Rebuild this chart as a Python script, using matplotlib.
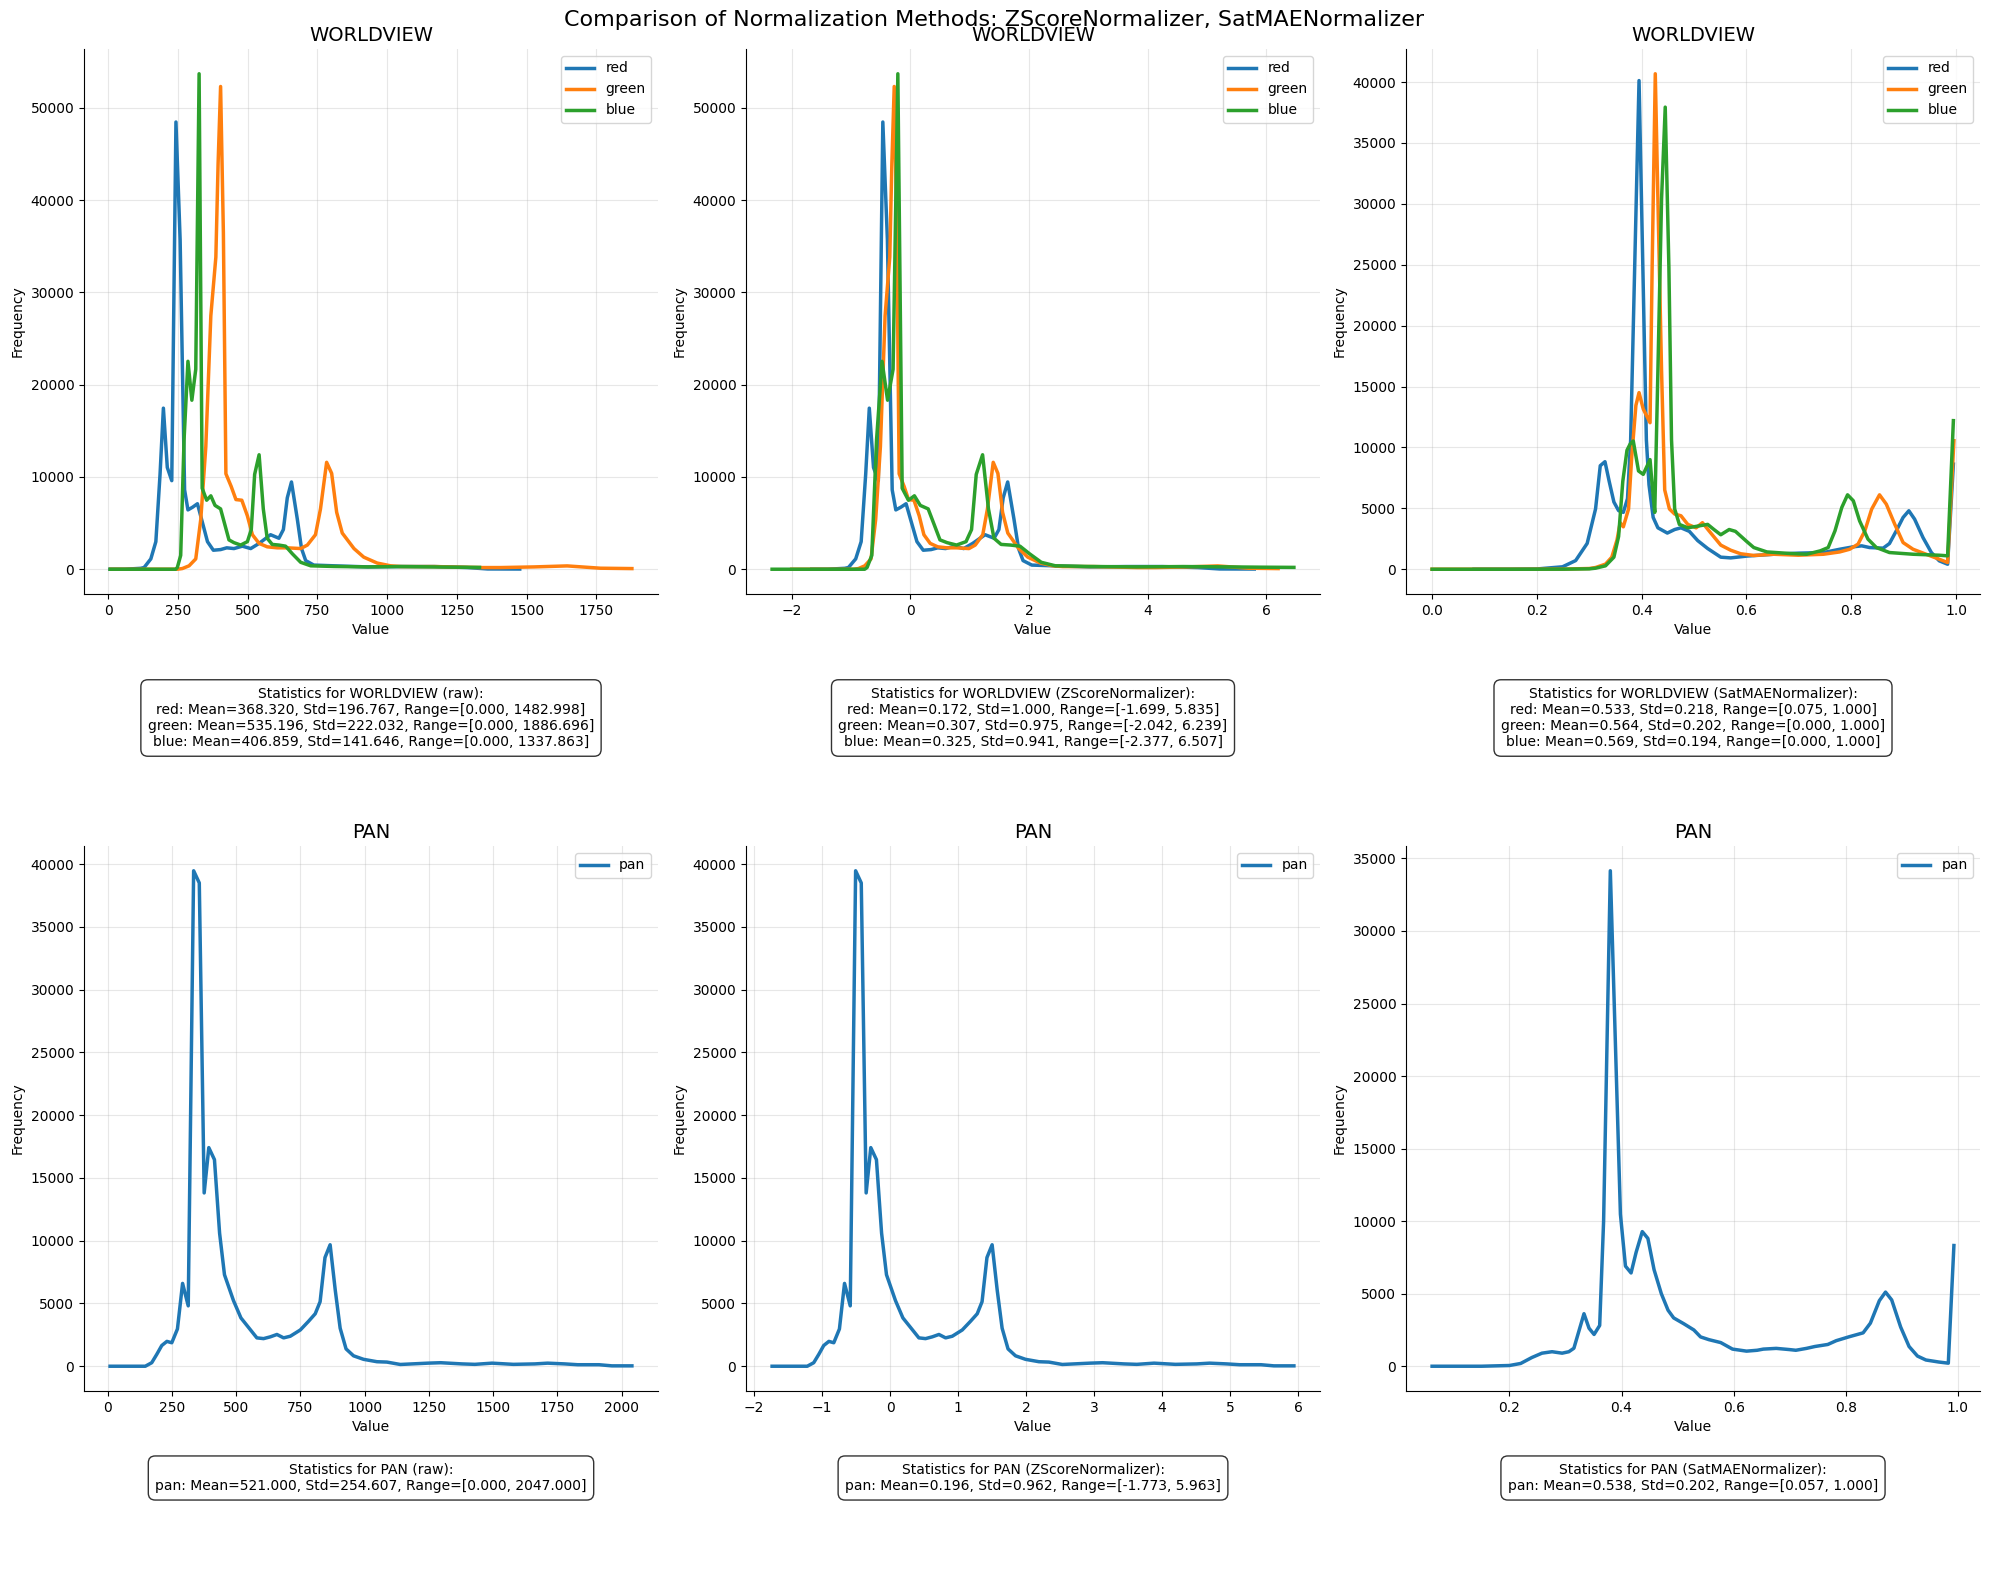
import matplotlib
matplotlib.use("Agg")
import matplotlib.pyplot as plt

# ---------------- data ----------------
channels = ["red", "green", "blue"]

# WORLDVIEW raw
wv_raw_red_x = [7, 60, 117, 129, 153, 171, 186, 198, 212, 228, 243, 258, 274, 286, 303, 320, 338, 356, 377, 403,
                425, 451, 481, 511, 541, 582, 612, 628, 642, 657, 678, 693, 708, 737, 809, 931, 1050, 1169, 1288, 1360, 1475]
wv_red_freq = [0, 0, 100, 190, 1120, 2990, 10280, 17460, 11030, 9600, 48480, 35700, 8600, 6430, 6730, 7100, 5050, 2990,
               2060, 2130, 2320, 2240, 2500, 2240, 2800, 3740, 3360, 4300, 7740, 9460, 5420, 2240, 935, 450, 370, 250,
               290, 290, 180, 30, 20]
wv_raw_green_x = [9, 150, 248, 266, 290, 314, 332, 350, 368, 386, 394, 403, 413, 422, 441, 458, 479, 499, 517, 541, 570,
                  606, 642, 690, 714, 743, 761, 783, 801, 819, 839, 881, 916, 964, 1012, 1050, 1169, 1336, 1407, 1526,
                  1645, 1764, 1877]
wv_green_freq = [0, 0, 0, 75, 370, 1120, 5420, 13270, 27470, 33830, 43920, 52330, 36450, 10350, 8970, 7550, 7480, 5790,
                 3740, 2800, 2430, 2320, 2320, 2240, 2620, 3740, 6540, 11590, 10390, 6170, 3920, 2240, 1310, 670, 370,
                 290, 290, 180, 180, 250, 360, 110, 70]
wv_raw_blue_x = [7, 150, 242, 248, 260, 272, 286, 300, 314, 326, 337, 353, 368, 383, 403, 418, 433, 451, 475, 499, 513,
                 525, 541, 556, 570, 588, 612, 636, 660, 690, 726, 809, 931, 1050, 1169, 1250, 1331]
wv_blue_freq = [0, 0, 0, 190, 1500, 14000, 22540, 18320, 21680, 53710, 8780, 7480, 7960, 6920, 6540, 4860, 3180, 2880,
                2620, 2990, 4300, 10280, 12410, 6540, 3360, 2690, 2620, 2500, 1680, 750, 370, 300, 250, 290, 250, 220, 200]

# WORLDVIEW ZScoreNormalizer (same counts, shifted/scaled values)
wv_z_red_x = [-1.663, -1.394, -1.105, -1.044, -0.922, -0.830, -0.754, -0.693, -0.622, -0.541, -0.465, -0.388, -0.307,
              -0.246, -0.160, -0.073, 0.018, 0.110, 0.216, 0.348, 0.460, 0.592, 0.745, 0.897, 1.049, 1.258, 1.410,
              1.491, 1.563, 1.639, 1.745, 1.822, 1.898, 2.045, 2.411, 3.031, 3.635, 4.240, 4.844, 5.210, 5.794]
wv_z_green_x = [-2.002, -1.384, -0.953, -0.875, -0.769, -0.664, -0.585, -0.506, -0.427, -0.348, -0.313, -0.273,
                -0.229, -0.190, -0.106, -0.032, 0.060, 0.148, 0.227, 0.333, 0.460, 0.618, 0.776, 0.987, 1.092, 1.219,
                1.298, 1.395, 1.474, 1.553, 1.641, 1.825, 1.978, 2.189, 2.400, 2.567, 3.089, 3.822, 4.134, 4.656,
                5.178, 5.700, 6.196]
wv_z_blue_x = [-2.331, -1.381, -0.770, -0.730, -0.651, -0.571, -0.478, -0.385, -0.292, -0.212, -0.139, -0.033, 0.067,
               0.166, 0.299, 0.399, 0.498, 0.618, 0.777, 0.937, 1.030, 1.109, 1.216, 1.315, 1.408, 1.528, 1.687,
               1.846, 2.006, 2.205, 2.444, 2.995, 3.805, 4.596, 5.386, 5.924, 6.462]

# WORLDVIEW SatMAENormalizer
wv_sat_red_x = [0.080, 0.150, 0.200, 0.220, 0.249, 0.274, 0.296, 0.312, 0.321, 0.330, 0.338, 0.347, 0.356, 0.365,
                0.373, 0.379, 0.395, 0.409, 0.414, 0.422, 0.431, 0.449, 0.463, 0.475, 0.491, 0.507, 0.526, 0.551,
                0.570, 0.601, 0.652, 0.699, 0.747, 0.778, 0.804, 0.820, 0.835, 0.861, 0.873, 0.886, 0.899, 0.910,
                0.921, 0.937, 0.953, 0.968, 0.984, 0.995]
wv_sat_red_y = [0, 0, 20, 95, 200, 710, 2120, 4950, 8500, 8830, 7220, 5520, 4810, 4670, 5800, 10620, 40120, 10620,
                6940, 4250, 3400, 2970, 3260, 3400, 3110, 2350, 1700, 990, 930, 1080, 1230, 1320, 1370, 1640, 1840,
                1920, 1780, 1730, 2110, 3150, 4250, 4800, 4110, 2600, 1370, 690, 410, 8630]
wv_sat_green_x = [0.0, 0.150, 0.250, 0.300, 0.312, 0.331, 0.343, 0.353, 0.359, 0.365, 0.375, 0.381, 0.389, 0.395,
                  0.403, 0.416, 0.420, 0.426, 0.431, 0.438, 0.444, 0.453, 0.463, 0.475, 0.488, 0.504, 0.516, 0.532,
                  0.551, 0.570, 0.589, 0.614, 0.652, 0.699, 0.747, 0.778, 0.797, 0.813, 0.826, 0.839, 0.854, 0.867,
                  0.883, 0.899, 0.918, 0.943, 0.968, 0.984, 0.996]
wv_sat_green_y = [0, 0, 10, 60, 140, 420, 990, 2410, 3820, 3480, 4950, 9200, 13450, 14500, 13160, 12030, 24770, 40680,
                  30410, 16260, 6510, 4950, 4530, 4390, 3680, 3400, 3820, 2970, 1980, 1560, 1270, 1130, 1230, 1150,
                  1230, 1420, 1640, 2060, 3150, 4930, 6110, 5340, 3700, 2190, 1640, 1230, 820, 550, 10550]
wv_sat_blue_x = [0.0, 0.150, 0.250, 0.300, 0.312, 0.331, 0.347, 0.356, 0.364, 0.372, 0.378, 0.384, 0.394, 0.403,
                 0.409, 0.416, 0.420, 0.425, 0.431, 0.438, 0.445, 0.452, 0.457, 0.463, 0.472, 0.488, 0.507, 0.526,
                 0.538, 0.551, 0.567, 0.579, 0.601, 0.614, 0.639, 0.684, 0.715, 0.741, 0.756, 0.769, 0.782, 0.793,
                 0.804, 0.816, 0.832, 0.848, 0.873, 0.918, 0.968, 0.984, 0.995]
wv_sat_blue_y = [0, 0, 5, 30, 85, 280, 990, 2690, 7220, 9770, 10280, 10530, 8070, 7790, 8350, 9000, 6940, 4670,
                 16280, 30430, 37940, 24770, 10620, 4950, 3680, 3400, 3540, 3680, 3260, 2830, 3260, 3110, 2260, 1780,
                 1420, 1290, 1230, 1510, 1780, 3150, 5070, 6110, 5620, 3970, 2470, 1780, 1370, 1230, 1150, 1100, 12200]

# PAN raw / ZScore (same counts)
pan_raw_x = [10, 147, 172, 192, 211, 231, 250, 272, 292, 314, 335, 357, 376, 394, 416, 436, 455, 490, 519, 549, 581,
             607, 633, 659, 685, 711, 750, 782, 808, 827, 846, 866, 886, 905, 928, 957, 996, 1048, 1087, 1139, 1246,
             1296, 1379, 1429, 1496, 1579, 1662, 1712, 1779, 1829, 1912, 1962, 2040]
pan_freq = [0, 0, 280, 960, 1650, 1980, 1870, 2970, 6600, 4810, 39480, 38510, 13810, 17420, 16460, 10600, 7290, 5230,
            3850, 3080, 2260, 2200, 2340, 2530, 2260, 2390, 2890, 3580, 4180, 5140, 8660, 9680, 6050, 3030, 1380, 830,
            550, 360, 330, 140, 245, 280, 185, 150, 245, 150, 185, 245, 185, 120, 120, 30, 30]
pan_z_x = [-1.735, -1.218, -1.123, -1.047, -0.976, -0.900, -0.828, -0.745, -0.670, -0.586, -0.507, -0.424, -0.352,
           -0.284, -0.201, -0.125, -0.053, 0.079, 0.188, 0.302, 0.423, 0.521, 0.619, 0.718, 0.816, 0.914, 1.061,
           1.182, 1.281, 1.352, 1.424, 1.500, 1.575, 1.647, 1.734, 1.844, 1.991, 2.188, 2.335, 2.532, 2.936, 3.125,
           3.439, 3.628, 3.881, 4.194, 4.508, 4.697, 4.950, 5.139, 5.453, 5.642, 5.937]

# PAN SatMAENormalizer
pan_sat_x = [0.062, 0.150, 0.200, 0.220, 0.240, 0.258, 0.276, 0.294, 0.306, 0.315, 0.333, 0.342, 0.351, 0.361, 0.368,
             0.380, 0.398, 0.407, 0.417, 0.426, 0.437, 0.447, 0.458, 0.471, 0.483, 0.493, 0.511, 0.529, 0.541, 0.556,
             0.577, 0.598, 0.623, 0.642, 0.653, 0.676, 0.699, 0.711, 0.730, 0.745, 0.768, 0.783, 0.806, 0.831, 0.844,
             0.860, 0.871, 0.882, 0.898, 0.913, 0.928, 0.943, 0.966, 0.983, 0.993]
pan_sat_y = [0, 0, 50, 190, 600, 900, 1000, 900, 1000, 1240, 3620, 2620, 2190, 2810, 10000, 34150, 10480, 6900, 6430,
             7850, 9280, 8810, 6660, 5000, 3860, 3330, 2930, 2500, 2020, 1830, 1630, 1180, 1040, 1100, 1180, 1230, 1150,
             1100, 1230, 1360, 1500, 1760, 2030, 2300, 2970, 4520, 5110, 4570, 2700, 1360, 700, 430, 290, 210, 8320]

stats_texts = [
    "Statistics for WORLDVIEW (raw):\n"
    "red: Mean=368.320, Std=196.767, Range=[0.000, 1482.998]\n"
    "green: Mean=535.196, Std=222.032, Range=[0.000, 1886.696]\n"
    "blue: Mean=406.859, Std=141.646, Range=[0.000, 1337.863]",
    "Statistics for WORLDVIEW (ZScoreNormalizer):\n"
    "red: Mean=0.172, Std=1.000, Range=[-1.699, 5.835]\n"
    "green: Mean=0.307, Std=0.975, Range=[-2.042, 6.239]\n"
    "blue: Mean=0.325, Std=0.941, Range=[-2.377, 6.507]",
    "Statistics for WORLDVIEW (SatMAENormalizer):\n"
    "red: Mean=0.533, Std=0.218, Range=[0.075, 1.000]\n"
    "green: Mean=0.564, Std=0.202, Range=[0.000, 1.000]\n"
    "blue: Mean=0.569, Std=0.194, Range=[0.000, 1.000]",
    "Statistics for PAN (raw):\n"
    "pan: Mean=521.000, Std=254.607, Range=[0.000, 2047.000]",
    "Statistics for PAN (ZScoreNormalizer):\n"
    "pan: Mean=0.196, Std=0.962, Range=[-1.773, 5.963]",
    "Statistics for PAN (SatMAENormalizer):\n"
    "pan: Mean=0.538, Std=0.202, Range=[0.057, 1.000]",
]

panels = [
    ("WORLDVIEW", [(wv_raw_red_x, wv_red_freq), (wv_raw_green_x, wv_green_freq), (wv_raw_blue_x, wv_blue_freq)], channels),
    ("WORLDVIEW", [(wv_z_red_x, wv_red_freq), (wv_z_green_x, wv_green_freq), (wv_z_blue_x, wv_blue_freq)], channels),
    ("WORLDVIEW", [(wv_sat_red_x, wv_sat_red_y), (wv_sat_green_x, wv_sat_green_y), (wv_sat_blue_x, wv_sat_blue_y)], channels),
    ("PAN", [(pan_raw_x, pan_freq)], ["pan"]),
    ("PAN", [(pan_z_x, pan_freq)], ["pan"]),
    ("PAN", [(pan_sat_x, pan_sat_y)], ["pan"]),
]

# ---------------- layout ----------------
W, H = 1989, 1596
fig = plt.figure(figsize=(W / 100, H / 100), dpi=100)
fig.suptitle("Comparison of Normalization Methods: ZScoreNormalizer, SatMAENormalizer",
             fontsize=16, y=1 - 20 / H, va="center")

lefts = [84, 746, 1406]
ax_w = 574
tops = [49, 846]
ax_h = 545
box_centers_y = [718, 1478]
colors = ["#1f77b4", "#ff7f0e", "#2ca02c"]

for i, (title, series, labels) in enumerate(panels):
    r, c = divmod(i, 3)
    ax = fig.add_axes([lefts[c] / W, 1 - (tops[r] + ax_h) / H, ax_w / W, ax_h / H])
    for (xs, ys), lab, col in zip(series, labels, colors):
        ax.plot(xs, ys, color=col, lw=2.5, label=lab)
    ax.set_title(title, fontsize=14)
    ax.set_xlabel("Value")
    ax.set_ylabel("Frequency")
    ax.grid(True, alpha=0.3)
    ax.legend(loc="upper right")
    ax.spines["top"].set_visible(False)
    ax.spines["right"].set_visible(False)
    fig.text((lefts[c] + ax_w / 2) / W, 1 - box_centers_y[r] / H, stats_texts[i],
             ha="center", va="center", multialignment="center", fontsize=10,
             bbox=dict(boxstyle="round,pad=0.5", facecolor="white", edgecolor="black", alpha=0.8))

fig.savefig("out.png", dpi=100)
